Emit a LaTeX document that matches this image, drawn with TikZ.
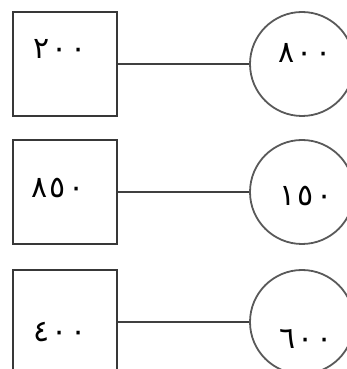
\documentclass[tikz,border=0pt]{standalone}
\usepackage{fontspec}
\newfontfamily\arabicfont[LetterSpace=9]{DejaVu Sans}
\begin{document}
\begin{tikzpicture}[x=1pt,y=1pt,
  sq/.style={draw=black!78,line width=2.6pt,minimum size=104pt,inner sep=0pt},
  circ/.style={circle,draw=black!65,line width=1.8pt,minimum size=104pt,inner sep=0pt},
  conn/.style={draw=black!75,line width=2.4pt},
  num/.style={font=\arabicfont\fontsize{30}{32}\selectfont,inner sep=0pt,text=black}]
\useasboundingbox (0,0) rectangle (347,369);
\clip (0,0) rectangle (347,369);
% row 1
\node[sq] (s1) at (65,305) {};
\node[circ] (c1) at (302,305) {};
\draw[conn] (s1) -- (c1);
\node[num] (t1) at (60,320) {٢٠٠};
\node[num] (u1) at (305,316) {٨٠٠};
% row 2
\node[sq] (s2) at (65,177) {};
\node[circ] (c2) at (302,177) {};
\draw[conn] (s2) -- (c2);
\node[num] (t2) at (58,181) {٨٥٠};
\node[num] (u2) at (306,173) {١٥٠};
% row 3
\node[sq] (s3) at (65,47) {};
\node[circ] (c3) at (302,47) {};
\draw[conn] (s3) -- (c3);
\node[num] (t3) at (60,37) {٤٠٠};
\node[num] (u3) at (306,30) {٦٠٠};
\end{tikzpicture}
\end{document}
